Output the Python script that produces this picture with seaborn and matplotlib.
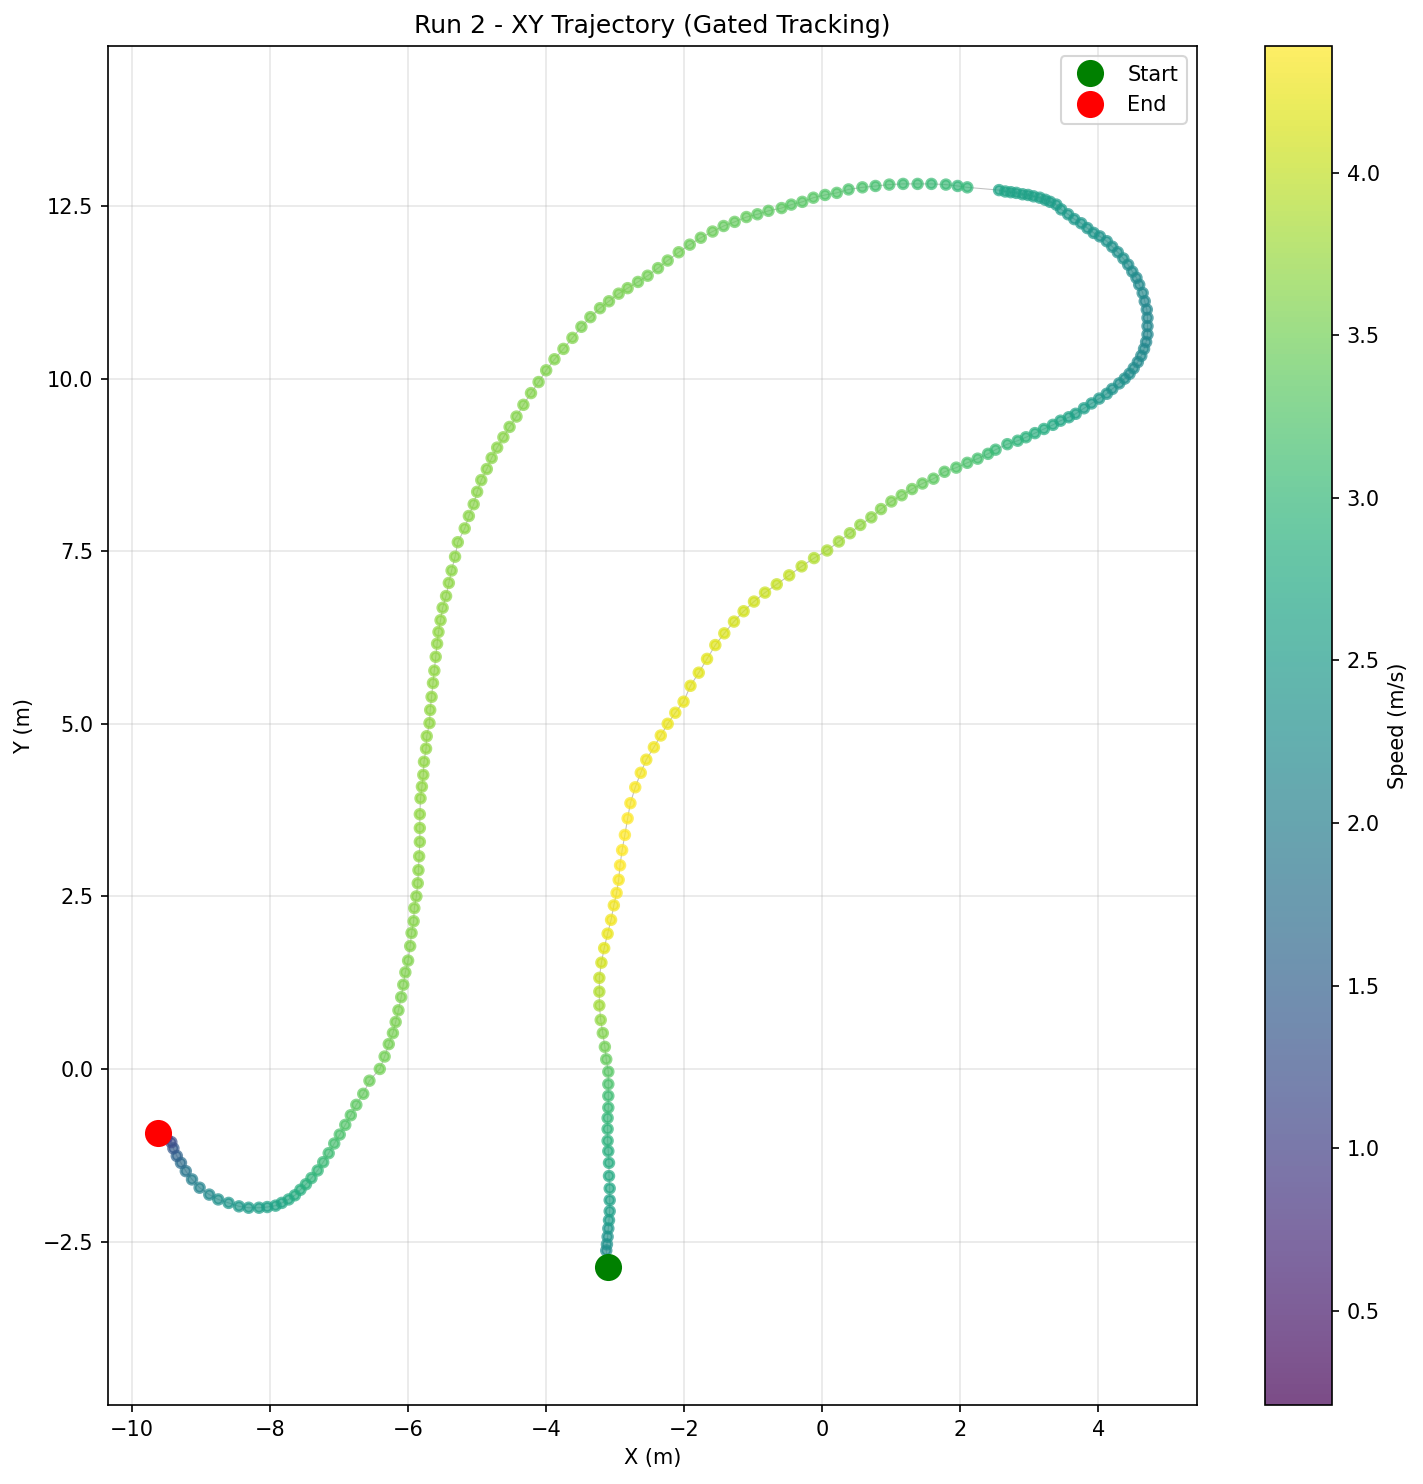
import matplotlib
matplotlib.use("Agg")
import matplotlib.pyplot as plt
from matplotlib.colors import Normalize
import pandas as pd
import seaborn as sns

# trajectory (m), in time order
x_m = [-3.10, -3.13, -3.12, -3.11, -3.10, -3.09, -3.08, -3.08, -3.08, -3.09,
       -3.09, -3.10, -3.11, -3.11, -3.11, -3.10, -3.10, -3.10, -3.10, -3.13,
       -3.15, -3.18, -3.21, -3.23,
       -3.23, -3.23, -3.20, -3.16, -3.11, -3.06, -3.02, -2.98, -2.95, -2.93,
       -2.90, -2.86, -2.82, -2.78, -2.71, -2.63, -2.55, -2.44, -2.34, -2.24,
       -2.13, -2.01, -1.91, -1.79, -1.67, -1.55, -1.42, -1.28, -1.14, -0.99,
       -0.83, -0.66, -0.48, -0.30, -0.12,
       0.07, 0.24, 0.40, 0.55, 0.71, 0.85, 1.00, 1.15, 1.30, 1.45,
       1.61, 1.77, 1.94, 2.10, 2.25, 2.40, 2.51,
       2.68, 2.83, 2.95, 3.08, 3.21, 3.34, 3.45, 3.57, 3.67, 3.79,
       3.90, 4.01, 4.12, 4.20, 4.30, 4.38, 4.45, 4.51, 4.57, 4.62,
       4.66, 4.69, 4.71, 4.71, 4.71, 4.70, 4.67, 4.64, 4.59, 4.55,
       4.49, 4.43, 4.36, 4.28, 4.20, 4.12, 4.02, 3.93,
       3.84, 3.75, 3.65, 3.56, 3.46, 3.39, 3.30, 3.23, 3.15, 3.06,
       2.98, 2.90, 2.81, 2.73, 2.65, 2.56,
       2.10, 1.96, 1.79, 1.58, 1.38, 1.17, 0.97, 0.77, 0.58, 0.38,
       0.21, 0.04, -0.13, -0.29, -0.45, -0.59,
       -0.78, -0.94, -1.10, -1.27, -1.43, -1.59, -1.76, -1.92, -2.08, -2.24,
       -2.38, -2.53, -2.67, -2.82, -2.95, -3.09, -3.22, -3.36, -3.49,
       -3.62, -3.75, -3.88, -4.00, -4.11, -4.22, -4.33, -4.43, -4.53, -4.62,
       -4.71, -4.79, -4.86, -4.94, -5.00, -5.05, -5.12,
       -5.18, -5.28, -5.32, -5.37, -5.41, -5.45, -5.50, -5.53, -5.56, -5.58,
       -5.60, -5.62, -5.64, -5.66, -5.68, -5.69, -5.73, -5.74, -5.77, -5.78,
       -5.80, -5.82,
       -5.83, -5.83, -5.83, -5.84, -5.85, -5.86, -5.88, -5.91, -5.92, -5.95,
       -5.97, -6.00, -6.04, -6.07, -6.10, -6.14, -6.18, -6.22, -6.28, -6.34,
       -6.41,
       -6.56, -6.65, -6.75, -6.83, -6.91, -6.99, -7.07, -7.15, -7.23, -7.31,
       -7.40, -7.48, -7.56, -7.64, -7.73, -7.83, -7.92, -8.04, -8.16, -8.31,
       -8.45, -8.60, -8.75, -8.88, -9.02, -9.13, -9.22, -9.29, -9.35, -9.40,
       -9.43, -9.50, -9.57, -9.63]

y_m = [-2.87, -2.63, -2.54, -2.43, -2.31, -2.19, -2.06, -1.90, -1.73, -1.55,
       -1.36, -1.19, -1.04, -0.87, -0.71, -0.56, -0.39, -0.22, -0.04, 0.14,
       0.32, 0.52, 0.71, 0.92,
       1.12, 1.32, 1.54, 1.75, 1.96, 2.16, 2.37, 2.55, 2.74, 2.95,
       3.17, 3.39, 3.63, 3.85, 4.08, 4.29, 4.48, 4.66, 4.83, 5.00,
       5.16, 5.32, 5.55, 5.74, 5.94, 6.14, 6.31, 6.48, 6.63, 6.77,
       6.90, 7.02, 7.15, 7.28, 7.40,
       7.51, 7.64, 7.76, 7.88, 7.99, 8.11, 8.22, 8.31, 8.40, 8.48,
       8.55, 8.65, 8.71, 8.78, 8.84, 8.91, 8.97,
       9.05, 9.10, 9.15, 9.21, 9.27, 9.33, 9.39, 9.44, 9.49, 9.57,
       9.64, 9.71, 9.78, 9.85, 9.93, 10.00, 10.07, 10.15, 10.24, 10.33,
       10.43, 10.53, 10.64, 10.76, 10.88, 11.00, 11.12, 11.24, 11.36, 11.46,
       11.55, 11.65, 11.74, 11.83, 11.91, 11.99, 12.06, 12.11,
       12.18, 12.25, 12.31, 12.38, 12.45, 12.52, 12.56, 12.59, 12.62, 12.64,
       12.66, 12.67, 12.69, 12.70, 12.71, 12.73,
       12.77, 12.79, 12.81, 12.82, 12.82, 12.82, 12.81, 12.79, 12.77, 12.74,
       12.69, 12.66, 12.62, 12.56, 12.52, 12.47,
       12.43, 12.38, 12.34, 12.27, 12.21, 12.13, 12.04, 11.94, 11.83, 11.71,
       11.60, 11.49, 11.40, 11.31, 11.23, 11.12, 11.02, 10.89, 10.75,
       10.59, 10.43, 10.28, 10.12, 9.95, 9.79, 9.62, 9.45, 9.30, 9.15,
       9.00, 8.85, 8.69, 8.53, 8.36, 8.18, 8.01,
       7.83, 7.63, 7.42, 7.22, 7.04, 6.85, 6.68, 6.50, 6.33, 6.16,
       5.97, 5.77, 5.59, 5.39, 5.20, 5.01, 4.82, 4.64, 4.45, 4.26,
       4.09, 3.92,
       3.69, 3.49, 3.29, 3.08, 2.88, 2.69, 2.50, 2.33, 2.14, 1.97,
       1.78, 1.57, 1.40, 1.22, 1.04, 0.85, 0.68, 0.52, 0.36, 0.18,
       0.00,
       -0.17, -0.36, -0.52, -0.67, -0.81, -0.95, -1.08, -1.22, -1.35, -1.47,
       -1.58, -1.67, -1.75, -1.83, -1.89, -1.94, -1.98, -2.00, -2.01, -2.01,
       -1.99, -1.94, -1.89, -1.82, -1.72, -1.60, -1.48, -1.36, -1.26, -1.15,
       -1.06, -1.00, -0.96, -0.93]

speed = [2.10, 2.20, 2.30, 2.35, 2.40, 2.50, 2.55, 2.60, 2.70, 2.75,
         2.80, 2.85, 2.90, 2.95, 3.00, 3.05, 3.10, 3.20, 3.30, 3.40,
         3.50, 3.60, 3.70, 3.80,
         3.90, 4.00, 4.10, 4.20, 4.25, 4.30, 4.30, 4.35, 4.35, 4.38,
         4.39, 4.39, 4.38, 4.36, 4.35, 4.33, 4.30, 4.30, 4.28, 4.27,
         4.25, 4.25, 4.22, 4.20, 4.20, 4.18, 4.15, 4.12, 4.10, 4.08,
         4.05, 4.02, 4.00, 3.95, 3.90,
         3.85, 3.80, 3.75, 3.70, 3.65, 3.60, 3.55, 3.50, 3.45, 3.40,
         3.35, 3.30, 3.25, 3.20, 3.15, 3.10, 3.05,
         3.00, 2.95, 2.90, 2.85, 2.80, 2.75, 2.70, 2.65, 2.60, 2.55,
         2.50, 2.45, 2.40, 2.35, 2.30, 2.30, 2.25, 2.25, 2.20, 2.20,
         2.20, 2.15, 2.15, 2.15, 2.15, 2.15, 2.15, 2.20, 2.20, 2.20,
         2.25, 2.25, 2.30, 2.30, 2.30, 2.35, 2.35, 2.40,
         2.40, 2.42, 2.44, 2.46, 2.48, 2.50, 2.52, 2.54, 2.56, 2.58,
         2.60, 2.60, 2.62, 2.62, 2.65, 2.65,
         3.00, 3.00, 3.05, 3.05, 3.10, 3.10, 3.15, 3.15, 3.20, 3.20,
         3.25, 3.25, 3.30, 3.30, 3.30, 3.35,
         3.35, 3.35, 3.40, 3.40, 3.40, 3.45, 3.45, 3.45, 3.50, 3.50,
         3.50, 3.50, 3.50, 3.55, 3.55, 3.55, 3.55, 3.55, 3.55,
         3.60, 3.60, 3.60, 3.60, 3.60, 3.62, 3.62, 3.62, 3.62, 3.64,
         3.64, 3.64, 3.65, 3.65, 3.65, 3.65, 3.65,
         3.66, 3.66, 3.67, 3.67, 3.68, 3.68, 3.68, 3.70, 3.70, 3.70,
         3.70, 3.70, 3.70, 3.70, 3.70, 3.70, 3.70, 3.70, 3.70, 3.70,
         3.70, 3.70,
         3.70, 3.70, 3.68, 3.68, 3.66, 3.66, 3.65, 3.64, 3.63, 3.62,
         3.61, 3.60, 3.60, 3.58, 3.57, 3.56, 3.55, 3.53, 3.52, 3.50,
         3.50,
         3.45, 3.40, 3.35, 3.30, 3.25, 3.20, 3.15, 3.10, 3.05, 3.00,
         2.95, 2.90, 2.85, 2.80, 2.75, 2.70, 2.65, 2.60, 2.55, 2.50,
         2.45, 2.40, 2.30, 2.20, 2.10, 2.00, 1.85, 1.70, 1.55, 1.40,
         1.20, 0.90, 0.50, 0.21]

df = pd.DataFrame({"x": x_m, "y": y_m, "speed": speed})

fig = plt.figure(figsize=(1423 / 150, 1484 / 150), dpi=150)
ax = fig.add_axes([108 / 1423, 1 - 1405 / 1484, (1197 - 108) / 1423, (1405 - 46) / 1484])
cax = fig.add_axes([1265 / 1423, 1 - 1405 / 1484, 67 / 1423, (1405 - 46) / 1484])

vmin, vmax = min(speed), max(speed)

# thin path line under the points
sns.lineplot(data=df, x="x", y="y", sort=False, estimator=None, color="gray",
             alpha=0.5, linewidth=0.5, ax=ax, legend=False)
sns.scatterplot(data=df, x="x", y="y", hue="speed", palette="viridis",
                hue_norm=(vmin, vmax), s=20, alpha=0.7, edgecolor="face",
                linewidth=1.5, ax=ax, legend=False, zorder=3)

ax.plot(x_m[0], y_m[0], "o", color="green", markersize=12, label="Start", zorder=4)
ax.plot(x_m[-1], y_m[-1], "o", color="red", markersize=12, label="End", zorder=4)

sm = plt.cm.ScalarMappable(norm=Normalize(vmin, vmax), cmap="viridis")
cb = fig.colorbar(sm, cax=cax, alpha=0.7)
cb.set_label("Speed (m/s)")

ax.set_xlabel("X (m)")
ax.set_ylabel("Y (m)")
ax.set_title("Run 2 - XY Trajectory (Gated Tracking)")
ax.legend(loc="upper right")
ax.grid(True, alpha=0.3)
ax.axis("equal")

fig.savefig("out.png", dpi=150)
